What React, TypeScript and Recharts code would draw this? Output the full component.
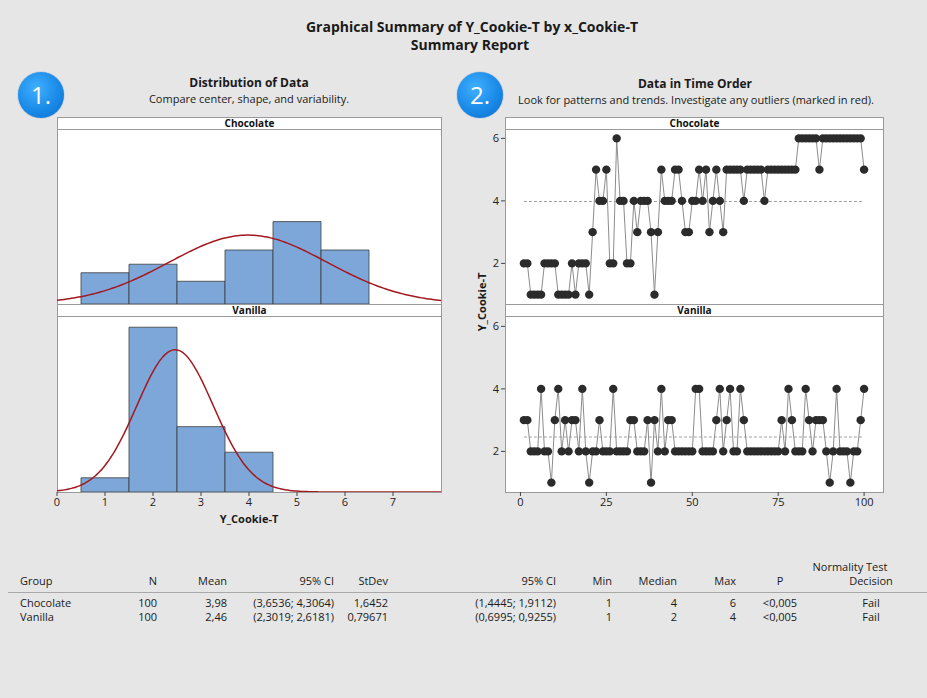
import React from 'react';
import { ComposedChart, LineChart, Line, Bar, XAxis, YAxis } from 'recharts';

// ---------- data ----------
const groupNames = ['Chocolate', 'Vanilla'];
const groupN = [100, 100];
const groupMeans = [3.98, 2.46];
const groupStDevs = [1.6452, 0.79671];

const chocolateBins = [1, 2, 3, 4, 5, 6];
const chocolateCounts = [11, 14, 8, 19, 29, 19];
const vanillaBins = [1, 2, 3, 4];
const vanillaCounts = [5, 58, 23, 14];

const chocolateTime = [
  2, 2, 1, 1, 1, 1, 2, 2, 2, 2,
  1, 1, 1, 1, 2, 1, 2, 2, 2, 1,
  3, 5, 4, 4, 5, 2, 2, 6, 4, 4,
  2, 2, 4, 3, 4, 4, 4, 3, 1, 3,
  5, 4, 4, 4, 5, 5, 4, 3, 3, 4,
  4, 5, 4, 5, 3, 4, 5, 4, 3, 5,
  5, 5, 5, 5, 4, 5, 5, 5, 5, 5,
  4, 5, 5, 5, 5, 5, 5, 5, 5, 5,
  6, 6, 6, 6, 6, 6, 5, 6, 6, 6,
  6, 6, 6, 6, 6, 6, 6, 6, 6, 5,
];
const vanillaTime = [
  3, 3, 2, 2, 2, 4, 2, 2, 1, 3,
  4, 2, 3, 2, 3, 3, 2, 4, 2, 1,
  2, 2, 3, 2, 2, 2, 4, 2, 2, 2,
  2, 3, 3, 2, 2, 2, 3, 1, 3, 2,
  4, 2, 3, 3, 2, 2, 2, 2, 2, 2,
  4, 4, 2, 2, 2, 2, 3, 4, 2, 3,
  4, 2, 2, 4, 3, 2, 2, 2, 2, 2,
  2, 2, 2, 2, 2, 3, 2, 4, 3, 2,
  2, 2, 4, 3, 2, 3, 3, 3, 2, 1,
  2, 4, 2, 2, 2, 1, 2, 2, 3, 4,
];

const histTicks = [0, 1, 2, 3, 4, 5, 6, 7];
const timeTicks = [0, 25, 50, 75, 100];
const valueTicks = [2, 4, 6];

const statMean = ['3,98', '2,46'];
const statMeanCI = ['(3,6536; 4,3064)', '(2,3019; 2,6181)'];
const statStDev = ['1,6452', '0,79671'];
const statStDevCI = ['(1,4445; 1,9112)', '(0,6995; 0,9255)'];
const statMin = ['1', '1'];
const statMedian = ['4', '2'];
const statMax = ['6', '4'];
const statP = ['<0,005', '<0,005'];
const statDecision = ['Fail', 'Fail'];

// ---------- helpers ----------
const FONT = '"Segoe UI", "Open Sans", "Noto Sans", sans-serif';
const BAR_BLUE = '#7da7d9';
const CURVE_RED = '#a3191f';
const FRAME = '#9a9a9a';
const TICK_STYLE = { fontSize: 11, fill: '#222', stroke: 'none', fontFamily: FONT };

function normalCurve(mean: number, sd: number, n: number) {
  const pts: { x: number; density: number }[] = [];
  for (let k = 0; k <= 160; k++) {
    const x = k * 0.05;
    const z = (x - mean) / sd;
    pts.push({ x, density: (n * Math.exp(-0.5 * z * z)) / (sd * Math.sqrt(2 * Math.PI)) });
  }
  return pts;
}

function Histogram({ bins, counts, gi, top, showAxis }: any) {
  const barData = bins.map((b: number, i: number) => ({ bin: b, count: counts[i] }));
  const curve = normalCurve(groupMeans[gi], groupStDevs[gi], groupN[gi]);
  return (
    <div style={{ position: 'absolute', left: 47, top }}>
      <ComposedChart
        width={404}
        height={showAxis ? 205 : 175}
        data={barData}
        margin={{ top: 0, right: 10, bottom: 0, left: 10 }}
        barCategoryGap={0}
        barGap={0}
      >
        <XAxis
          xAxisId="bars"
          dataKey="bin"
          type="number"
          domain={[0, 8]}
          ticks={histTicks}
          interval={0}
          hide={!showAxis}
          height={30}
          axisLine={false}
          tickSize={4}
          tickLine={{ stroke: '#444' }}
          tick={TICK_STYLE}
        />
        <XAxis xAxisId="curve" dataKey="x" type="number" domain={[0, 8]} hide />
        <YAxis yAxisId="c" type="number" domain={[0, 61.6]} hide allowDataOverflow />
        <Bar
          xAxisId="bars"
          yAxisId="c"
          dataKey="count"
          fill={BAR_BLUE}
          stroke="#3c3c3c"
          strokeWidth={0.8}
          isAnimationActive={false}
        />
        <Line
          xAxisId="curve"
          yAxisId="c"
          data={curve}
          dataKey="density"
          type="monotone"
          stroke={CURVE_RED}
          strokeWidth={1.5}
          dot={false}
          isAnimationActive={false}
        />
      </ComposedChart>
    </div>
  );
}

function TimePanel({ values, gi, top, showAxis }: any) {
  const series = values.map((v: number, i: number) => ({ obs: i + 1, value: v }));
  const meanLine = [
    { obs: 1, value: groupMeans[gi] },
    { obs: values.length, value: groupMeans[gi] },
  ];
  return (
    <div style={{ position: 'absolute', left: 465, top }}>
      <LineChart width={428} height={showAxis ? 205 : 175} margin={{ top: 0, right: 10, bottom: 0, left: 0 }}>
        <XAxis
          dataKey="obs"
          type="number"
          domain={[-4.5, 105.5]}
          ticks={timeTicks}
          interval={0}
          allowDataOverflow
          hide={!showAxis}
          height={30}
          axisLine={false}
          tickSize={4}
          tickLine={{ stroke: '#444' }}
          tick={TICK_STYLE}
        />
        <YAxis
          type="number"
          domain={[0.7, 6.3]}
          ticks={valueTicks}
          interval={0}
          allowDataOverflow
          width={40}
          axisLine={false}
          tickSize={4}
          tickLine={{ stroke: '#444' }}
          tick={TICK_STYLE}
        />
        <Line
          data={meanLine}
          dataKey="value"
          stroke="#a0a0a0"
          strokeDasharray="3 2"
          strokeWidth={1}
          dot={false}
          isAnimationActive={false}
        />
        <Line
          data={series}
          dataKey="value"
          type="linear"
          stroke="#8c8c8c"
          strokeWidth={1}
          dot={{ r: 4.2, fill: '#2b2b2b', stroke: 'none' }}
          isAnimationActive={false}
        />
      </LineChart>
    </div>
  );
}

function PanelFrame({ left, width }: { left: number; width: number }) {
  const strip = (top: number, label: string) => (
    <div
      style={{
        position: 'absolute',
        left,
        top,
        width,
        height: 13,
        boxSizing: 'border-box',
        border: `1px solid ${FRAME}`,
        background: '#fff',
        fontSize: 10,
        fontWeight: 700,
        lineHeight: '11px',
        textAlign: 'center',
        color: '#111',
      }}
    >
      {label}
    </div>
  );
  return (
    <>
      <div
        style={{
          position: 'absolute',
          left,
          top: 117,
          width,
          height: 376,
          boxSizing: 'border-box',
          border: `1px solid ${FRAME}`,
          background: '#fff',
        }}
      />
      {strip(117, groupNames[0])}
      {strip(304, groupNames[1])}
    </>
  );
}

function Badge({ cx, label }: { cx: number; label: string }) {
  return (
    <div
      style={{
        position: 'absolute',
        left: cx - 23,
        top: 72,
        width: 46,
        height: 46,
        borderRadius: '50%',
        background: 'radial-gradient(circle at 40% 35%, #3fb0ff 0%, #1a8ae8 55%, #0a6cc9 100%)',
        color: '#fff',
        fontSize: 24,
        lineHeight: '46px',
        textAlign: 'center',
        boxShadow: '0 0 1px #0a5aa8',
      }}
    >
      {label}
    </div>
  );
}

function Txt({ x, y, w, align, bold, size, children }: any) {
  const left = align === 'right' ? x - w : align === 'center' ? x - w / 2 : x;
  return (
    <div
      style={{
        position: 'absolute',
        left,
        top: y - 8,
        width: w,
        height: 16,
        lineHeight: '16px',
        textAlign: align || 'left',
        fontWeight: bold ? 700 : 400,
        fontSize: size || 11,
        color: '#1a1a1a',
        whiteSpace: 'nowrap',
      }}
    >
      {children}
    </div>
  );
}

const columns = [
  { header: 'Group', x: 20, align: 'left', vals: groupNames },
  { header: 'N', x: 157, align: 'right', vals: groupN.map(String) },
  { header: 'Mean', x: 227, align: 'right', vals: statMean },
  { header: '95% CI', x: 334, align: 'right', vals: statMeanCI },
  { header: 'StDev', x: 388, align: 'right', vals: statStDev },
  { header: '95% CI', x: 556, align: 'right', vals: statStDevCI },
  { header: 'Min', x: 612, align: 'right', vals: statMin },
  { header: 'Median', x: 677, align: 'right', vals: statMedian },
  { header: 'Max', x: 736, align: 'right', vals: statMax },
  { header: 'P', x: 780, align: 'center', vals: statP },
  { header: 'Decision', x: 871, align: 'center', vals: statDecision },
];

export default function App() {
  return (
    <div
      style={{
        position: 'absolute',
        left: 0,
        top: 0,
        width: 927,
        height: 698,
        background: '#e6e6e6',
        fontFamily: FONT,
        overflow: 'hidden',
      }}
    >
      {/* titles */}
      <Txt x={472} y={27} w={600} align="center" bold size={14}>
        Graphical Summary of Y_Cookie-T by x_Cookie-T
      </Txt>
      <Txt x={470} y={45} w={300} align="center" bold size={14}>
        Summary Report
      </Txt>

      <Badge cx={41} label="1." />
      <Badge cx={480} label="2." />

      <Txt x={249} y={83} w={300} align="center" bold size={12}>
        Distribution of Data
      </Txt>
      <Txt x={249} y={99} w={300} align="center" size={11}>
        Compare center, shape, and variability.
      </Txt>
      <Txt x={695} y={84} w={300} align="center" bold size={12}>
        Data in Time Order
      </Txt>
      <Txt x={696} y={100} w={420} align="center" size={11}>
        Look for patterns and trends. Investigate any outliers (marked in red).
      </Txt>

      {/* panel frames */}
      <PanelFrame left={57} width={385} />
      <PanelFrame left={505} width={379} />

      {/* histograms */}
      <Histogram bins={chocolateBins} counts={chocolateCounts} gi={0} top={129} showAxis={false} />
      <Histogram bins={vanillaBins} counts={vanillaCounts} gi={1} top={317} showAxis />
      <Txt x={249} y={519} w={200} align="center" bold size={11}>
        Y_Cookie-T
      </Txt>

      {/* time series */}
      <TimePanel values={chocolateTime} gi={0} top={129} showAxis={false} />
      <TimePanel values={vanillaTime} gi={1} top={317} showAxis />
      <div
        style={{
          position: 'absolute',
          left: 482 - 50,
          top: 302 - 8,
          width: 100,
          height: 16,
          lineHeight: '16px',
          textAlign: 'center',
          fontSize: 11,
          fontWeight: 700,
          color: '#1a1a1a',
          transform: 'rotate(-90deg)',
        }}
      >
        Y_Cookie-T
      </div>

      {/* summary table */}
      <Txt x={850} y={567} w={140} align="center" size={11}>
        Normality Test
      </Txt>
      {columns.map((c, ci) => {
        const w = 160;
        const x = c.x;
        return (
          <React.Fragment key={ci}>
            <Txt x={x} y={581} w={w} align={c.align}>
              {c.header}
            </Txt>
            {c.vals.map((v, ri) => (
              <Txt key={ri} x={x} y={603 + ri * 14} w={w} align={c.align}>
                {v}
              </Txt>
            ))}
          </React.Fragment>
        );
      })}
      <div style={{ position: 'absolute', left: 8, top: 592, width: 919, height: 1, background: '#a8a8a8' }} />
    </div>
  );
}
